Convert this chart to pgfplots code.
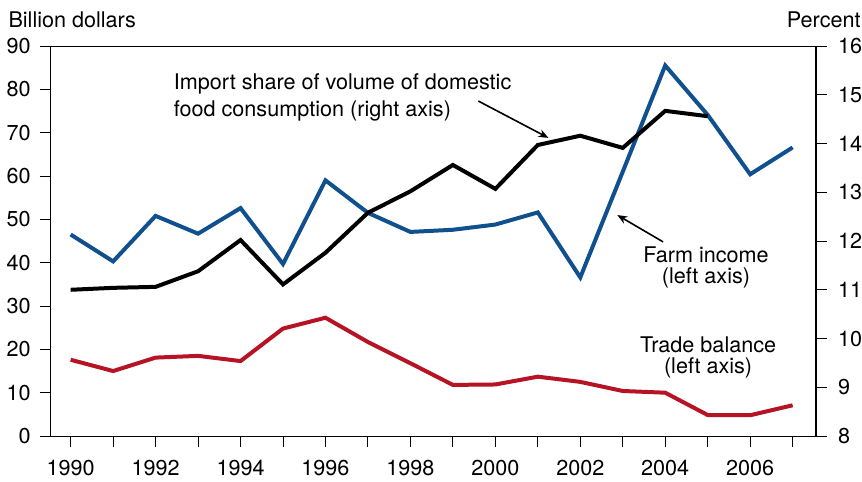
\documentclass[border=0pt]{standalone}
\usepackage{pgfplots}
\pgfplotsset{compat=1.18}
\usepackage{fontspec}
\setmainfont{TeX Gyre Heros}
\usetikzlibrary{arrows.meta}
\definecolor{farmblue}{RGB}{16,80,142}
\definecolor{tradered}{RGB}{182,20,36}
\begin{document}
\begin{tikzpicture}
\pgfplotsset{
  common/.style={
    at={(0,0)}, anchor=south west,
    scale only axis, width=382.6pt, height=195pt,
    xmin=1989.53, xmax=2007.55,
    font=\fontsize{10.8}{13}\selectfont,
    /pgf/number format/assume math mode=true,
    tick align=outside,
    major tick length=5.5pt,
    tick style={black, line width=0.5pt},
    axis line style={line width=0.5pt},
    clip=false,
  }
}
\begin{axis}[common,
  ymin=0, ymax=90, ytick={0,10,...,90},
  xtick pos=bottom, ytick pos=left,
  xtick={1990,1991,...,2007},
  xticklabels={1990,,1992,,1994,,1996,,1998,,2000,,2002,,2004,,2006,},
  xticklabel style={yshift=-3pt},
  yticklabel style={xshift=-1pt},
  /pgf/number format/1000 sep={},
]
\addplot[tradered, line width=2pt] coordinates {
(1990,17.6) (1991,15.0) (1992,18.1) (1993,18.5) (1994,17.3) (1995,24.8)
(1996,27.3) (1997,21.7) (1998,16.8) (1999,11.8) (2000,11.9) (2001,13.7)
(2002,12.5) (2003,10.4) (2004,10.0) (2005,4.85) (2006,4.8) (2007,7.1)};
\addplot[farmblue, line width=2pt] coordinates {
(1990,46.5) (1991,40.3) (1992,50.8) (1993,46.7) (1994,52.6) (1995,39.7)
(1996,59.0) (1997,51.5) (1998,47.1) (1999,47.6) (2000,48.8) (2001,51.6)
(2002,36.6) (2003,61.0) (2004,85.5) (2005,74.1) (2006,60.4) (2007,66.6)};
\node[anchor=west, inner sep=0pt, align=left, font=\fontsize{10.8}{13.5}\selectfont] at (axis cs:1992.42,78.2)
  {Import share of volume of domestic\\food consumption (right axis)};
\draw[-{Stealth[length=5pt,width=4pt]}, line width=0.8pt] (axis cs:1999.6,77.3) -- (axis cs:2001.25,68.8);
\node[align=center, font=\fontsize{10.8}{10.5}\selectfont] at (axis cs:2004.96,38.8)
  {Farm income\\(left axis)};
\draw[-{Stealth[length=5pt,width=4pt]}, line width=0.8pt] (axis cs:2003.95,44.8) -- (axis cs:2002.87,51.0);
\node[align=center, font=\fontsize{10.8}{10.5}\selectfont] at (axis cs:2005.01,18.2)
  {Trade balance\\(left axis)};
\node[anchor=west, inner sep=0pt] at (axis cs:1989.53,90) [xshift=-21.3pt, yshift=13pt] {Billion dollars};
\end{axis}
\begin{axis}[common,
  ymin=8, ymax=16, ytick={8,9,...,16},
  axis x line=none, axis y line*=right,
  yticklabel style={xshift=2pt},
]
\addplot[black, line width=2pt] coordinates {
(1990,11.00) (1991,11.04) (1992,11.06) (1993,11.38) (1994,12.02) (1995,11.11)
(1996,11.76) (1997,12.58) (1998,13.02) (1999,13.56) (2000,13.07) (2001,13.97)
(2002,14.16) (2003,13.91) (2004,14.67) (2005,14.56)};
\node[anchor=east, inner sep=0pt] at (axis cs:2007.55,16) [xshift=22.5pt, yshift=13pt] {Percent};
\end{axis}
\pgfresetboundingbox
\path[use as bounding box] (-25.35pt,-22.5pt) rectangle (405.6pt,218pt);
\end{tikzpicture}
\end{document}
